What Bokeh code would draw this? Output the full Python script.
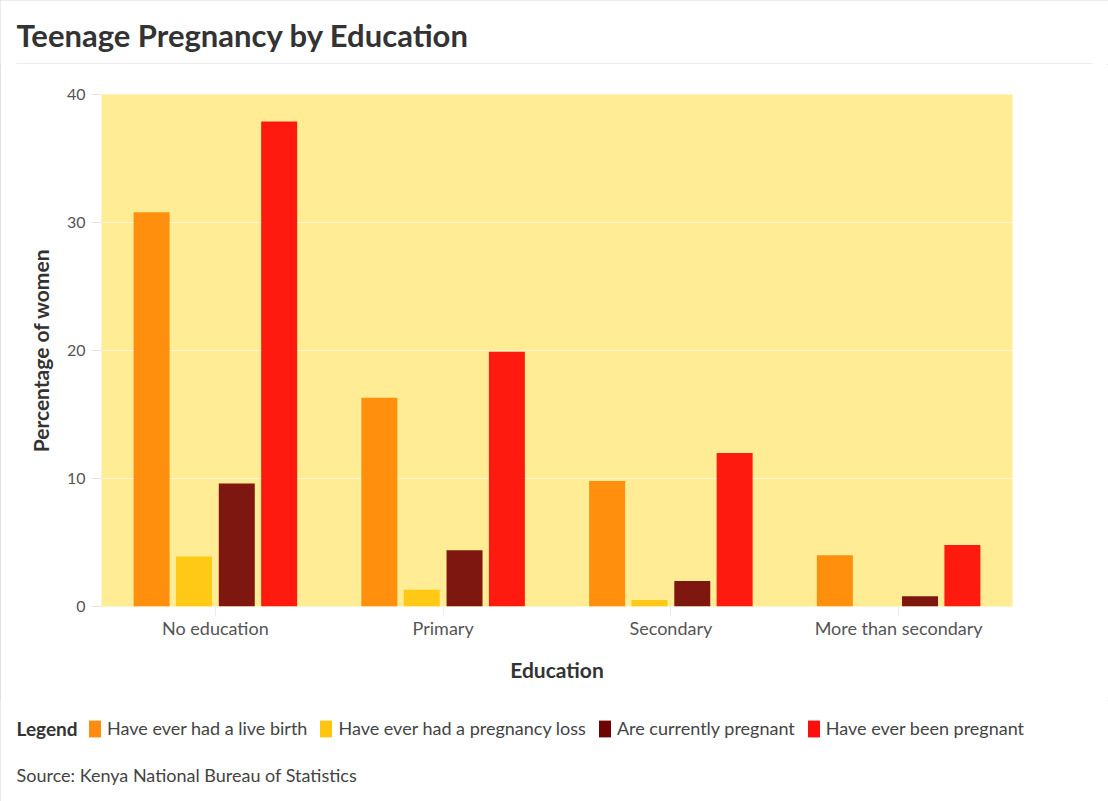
from bokeh.plotting import figure
from bokeh.layouts import column
from bokeh.models import (FactorRange, Range1d, Label, Legend, LegendItem,
                          FixedTicker)
from bokeh.transform import dodge
from bokeh.embed import file_html
from bokeh.resources import INLINE

categories = ["No education", "Primary", "Secondary", "More than secondary"]
series_names = ["Have ever had a live birth", "Have ever had a pregnancy loss",
                "Are currently pregnant", "Have ever been pregnant"]
live_birth = [30.8, 16.3, 9.8, 4.0]
pregnancy_loss = [3.9, 1.3, 0.5, 0.0]
currently_pregnant = [9.6, 4.4, 2.0, 0.8]
ever_pregnant = [37.9, 19.9, 12.0, 4.8]
y_ticks = [0, 10, 20, 30, 40]

bar_colors = ["#FF8F0C", "#FFC916", "#7E1710", "#FF1A10"]
key_colors = ["#FF8C0F", "#FFC510", "#6E0303", "#FF0D0D"]
FONT = "Lato"
W = 1108
HEADER_H, CHART_H, FOOTER_H = 64, 636, 101


def blank_panel(height):
    """A figure whose frame fills the whole canvas, measured in pixels from the top."""
    f = figure(width=W, height=height, x_range=Range1d(0, W),
               y_range=Range1d(height, 0), x_axis_type=None, y_axis_type=None,
               output_backend="svg", toolbar_location=None, frame_align=False,
               min_border=0, min_border_left=0, min_border_right=0,
               min_border_top=0, min_border_bottom=0)
    f.outline_line_color = None
    f.background_fill_color = "white"
    f.border_fill_color = "white"
    f.grid.visible = False
    return f


# ---- header: title and rule
header = blank_panel(HEADER_H)
header.add_layout(Label(x=16, y=34, text="Teenage Pregnancy by Education",
                        text_font=FONT, text_font_size="31px",
                        text_font_style="bold", text_color="#333333",
                        text_baseline="middle"))
header.segment(x0=[16], y0=[63.5], x1=[W - 16], y1=[63.5],
               line_color="#d9d9d9", line_width=1)

# ---- chart
source = dict(cat=categories, s0=live_birth, s1=pregnancy_loss,
              s2=currently_pregnant, s3=ever_pregnant)

p = figure(width=W, height=CHART_H, x_range=FactorRange(*categories),
           y_range=Range1d(0, 40), output_backend="svg", toolbar_location=None,
           frame_align=False,
           min_border_left=101, min_border_right=96, min_border_top=30,
           min_border_bottom=94)
p.background_fill_color = "#FFEC94"
p.border_fill_color = "white"
p.outline_line_color = None

offsets = [-0.28, -0.094, 0.094, 0.28]
for i, key in enumerate(["s0", "s1", "s2", "s3"]):
    p.vbar(x=dodge("cat", offsets[i], range=p.x_range), top=key, width=0.158,
           source=source, fill_color=bar_colors[i], line_color=None)

p.xgrid.grid_line_color = None
p.ygrid.grid_line_color = "white"
p.ygrid.grid_line_alpha = 0.55
p.yaxis.ticker = FixedTicker(ticks=y_ticks)

ya = p.yaxis[0]
ya.axis_line_color = None
ya.major_tick_line_color = "#e4e4e4"
ya.major_tick_out = 10
ya.major_tick_in = 0
ya.minor_tick_line_color = None
ya.major_label_text_font = FONT
ya.major_label_text_font_size = "16px"
ya.major_label_text_color = "#555555"
ya.major_label_standoff = 6
ya.axis_label = "Percentage of women"
ya.axis_label_text_font = FONT
ya.axis_label_text_font_size = "21px"
ya.axis_label_text_font_style = "bold"
ya.axis_label_text_color = "#333333"
ya.axis_label_standoff = 11

xa = p.xaxis[0]
xa.axis_line_color = None
xa.major_tick_line_color = "#ebebeb"
xa.major_tick_out = 10
xa.major_tick_in = 0
xa.minor_tick_line_color = None
xa.major_label_text_font = FONT
xa.major_label_text_font_size = "18px"
xa.major_label_text_color = "#555555"
xa.major_label_standoff = 0
xa.axis_label = "Education"
xa.axis_label_text_font = FONT
xa.axis_label_text_font_size = "21px"
xa.axis_label_text_font_style = "bold"
xa.axis_label_text_color = "#333333"
xa.axis_label_standoff = 15

# ---- footer: legend and source note
footer = blank_panel(FOOTER_H)
keys = []
for c in key_colors:
    # legend keys only; the single point sits left of the visible area
    keys.append(footer.vbar(x=[-100], top=[0], width=1, fill_color=c,
                            line_color=None, border_radius=4))
items = [LegendItem(label=n, renderers=[r]) for n, r in zip(series_names, keys)]
legend = Legend(items=items, orientation="horizontal",
                location=(87, FOOTER_H - 39),
                background_fill_alpha=0, border_line_color=None,
                label_text_font=FONT, label_text_font_size="18px",
                label_text_color="#444444", glyph_width=15, glyph_height=21,
                label_standoff=5, spacing=11, padding=0, margin=0)
footer.add_layout(legend, "center")
footer.add_layout(Label(x=16, y=28, text="Legend", text_font=FONT,
                        text_font_size="19px", text_font_style="bold",
                        text_color="#333333", text_baseline="middle"))
footer.add_layout(Label(x=16, y=74, text="Source: Kenya National Bureau of Statistics",
                        text_font=FONT, text_font_size="18px", text_color="#444444",
                        text_baseline="middle"))

page = column(header, p, footer, spacing=0,
              styles={"outline": "1px solid #d6d6d6", "outline-offset": "-1px"})
open("out.html", "w").write(file_html(page, INLINE))
